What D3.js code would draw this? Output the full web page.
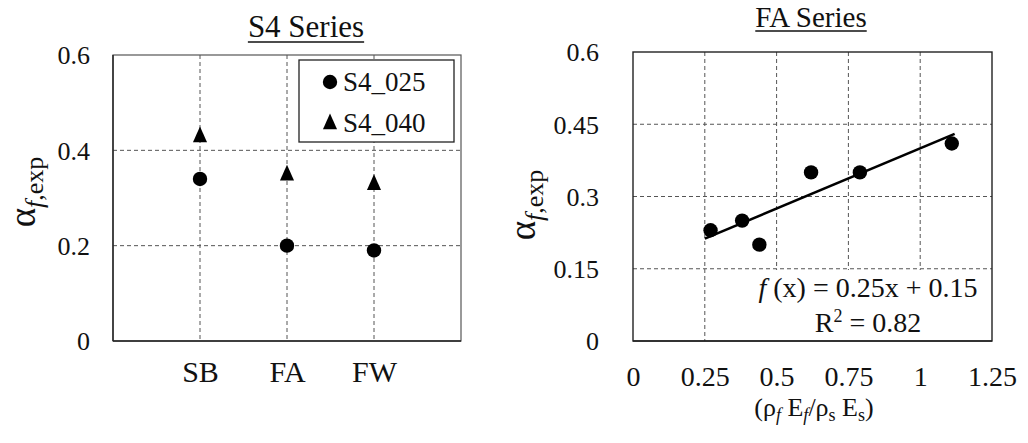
<!DOCTYPE html>
<html>
<head>
<meta charset="utf-8">
<script src="https://cdn.jsdelivr.net/npm/d3@7/dist/d3.min.js"></script>
<style>
  html, body { margin: 0; padding: 0; background: #fff; }
  svg { display: block; }
  svg text, svg tspan { font-family: 'Liberation Serif', serif !important; }
</style>
</head>
<body>
<svg id="chart" width="1028" height="443"></svg>
<script>
// ---- S4 series (left panel) ----
const s4Categories = ["SB", "FA", "FW"];
const s4_025 = [0.34, 0.20, 0.19];
const s4_040 = [0.43, 0.35, 0.33];
const s4SeriesNames = ["S4_025", "S4_040"];
const s4YTicks = [0, 0.2, 0.4, 0.6];

// ---- FA series (right panel) ----
const faStiffness = [0.27, 0.38, 0.44, 0.62, 0.79, 1.11];
const faAlpha = [0.23, 0.25, 0.20, 0.35, 0.35, 0.41];
const faXTicks = [0, 0.25, 0.5, 0.75, 1, 1.25];
const faYTicks = [0, 0.15, 0.3, 0.45, 0.6];
const faTrendSlope = 0.25;
const faTrendIntercept = 0.15;
const faTrendRange = [0.25, 1.12];
const faR2 = 0.82;

const SERIF = "'Liberation Serif', serif";
const svg = d3.select("#chart");
const gridColor = "#555";
const frameColor = "#222";

// custom tall triangle symbol
const tallTriangle = {
  draw(ctx, size) {
    const w = Math.sqrt(size * 0.9);
    const h = w * 1.12;
    ctx.moveTo(0, -h * 0.6);
    ctx.lineTo(w / 2, h * 0.4);
    ctx.lineTo(-w / 2, h * 0.4);
    ctx.closePath();
  }
};
const circleSym = d3.symbol(d3.symbolCircle, Math.PI * 7.2 * 7.2);
const triSym = d3.symbol(tallTriangle, 220);

function txt(sel) {
  return sel.style("font-family", SERIF).attr("fill", "#111");
}

function underlinedTitle(text, cx, baseline, size, uy) {
  const t = txt(svg.append("text"))
    .attr("x", cx).attr("y", baseline)
    .attr("text-anchor", "middle")
    .attr("font-size", size)
    .text(text);
  const w = t.node().getComputedTextLength();
  svg.append("line")
    .attr("x1", cx - w / 2).attr("x2", cx + w / 2)
    .attr("y1", uy).attr("y2", uy)
    .attr("stroke", "#111").attr("stroke-width", 1.5);
}

function alphaLabel(x, cy) {
  const t = txt(svg.append("text"))
    .attr("transform", `translate(${x},${cy}) rotate(-90)`)
    .attr("text-anchor", "middle");
  t.append("tspan").attr("font-size", 37).text("α");
  t.append("tspan").attr("font-size", 26).attr("font-style", "italic").attr("dy", 8).text("f");
  t.append("tspan").attr("font-size", 26).text(",exp");
}

// ================= Left panel =================
{
  const L = 113, R = 461, T = 55, B = 341;
  const x = d3.scalePoint().domain(s4Categories).range([L, R]).padding(1);
  const y = d3.scaleLinear().domain([0, 0.6]).range([B, T]);
  const g = svg.append("g");

  // dashed gridlines
  g.append("g").selectAll("line")
    .data(s4YTicks.filter(v => v > 0 && v < 0.6))
    .join("line")
    .attr("x1", L).attr("x2", R)
    .attr("y1", d => y(d)).attr("y2", d => y(d))
    .attr("stroke", gridColor).attr("stroke-width", 1).attr("stroke-dasharray", "4,3");
  g.append("g").selectAll("line")
    .data(s4Categories)
    .join("line")
    .attr("x1", d => x(d)).attr("x2", d => x(d))
    .attr("y1", T).attr("y2", B)
    .attr("stroke", gridColor).attr("stroke-width", 1).attr("stroke-dasharray", "4,3");

  // frame
  g.append("rect").attr("x", L).attr("y", T).attr("width", R - L).attr("height", B - T)
    .attr("fill", "none").attr("stroke", "#555").attr("stroke-width", 1.2);
  g.append("line").attr("x1", L).attr("x2", R).attr("y1", B).attr("y2", B)
    .attr("stroke", frameColor).attr("stroke-width", 1.6);
  g.append("line").attr("x1", L).attr("x2", L).attr("y1", T).attr("y2", B)
    .attr("stroke", frameColor).attr("stroke-width", 1.4);

  // y axis tick labels
  const yAxis = d3.axisLeft(y).tickValues(s4YTicks).tickSize(0).tickPadding(0)
    .tickFormat(d => d === 0 ? "0" : d3.format(".1f")(d));
  const ya = g.append("g").attr("transform", `translate(${90},0)`).call(yAxis);
  ya.select(".domain").remove();
  txt(ya.selectAll("text")).attr("font-size", 26).attr("dy", "0.34em");

  // category labels
  const xAxis = d3.axisBottom(x).tickSize(0).tickPadding(0);
  const xa = g.append("g").attr("transform", `translate(0,${382})`).call(xAxis);
  xa.select(".domain").remove();
  txt(xa.selectAll("text")).attr("font-size", 30).attr("dy", 0);

  // legend box (covers gridlines)
  const lg = g.append("g");
  lg.append("rect").attr("x", 299).attr("y", 60).attr("width", 155).attr("height", 82)
    .attr("fill", "#fff").attr("stroke", frameColor).attr("stroke-width", 1.3);
  const syms = [circleSym, triSym];
  s4SeriesNames.forEach((name, i) => {
    const cy = 82 + i * 41;
    lg.append("path").attr("d", syms[i]()).attr("transform", `translate(330,${cy})`).attr("fill", "#000");
    txt(lg.append("text")).attr("x", 343).attr("y", cy + 9).attr("font-size", 27).text(name);
  });

  // markers
  g.append("g").selectAll("path")
    .data(s4Categories.map((c, i) => ({ c, v: s4_040[i] })))
    .join("path").attr("d", triSym())
    .attr("transform", d => `translate(${x(d.c)},${y(d.v)})`).attr("fill", "#000");
  g.append("g").selectAll("path")
    .data(s4Categories.map((c, i) => ({ c, v: s4_025[i] })))
    .join("path").attr("d", circleSym())
    .attr("transform", d => `translate(${x(d.c)},${y(d.v)})`).attr("fill", "#000");

  underlinedTitle("S4 Series", 306, 37, 31, 42);
  alphaLabel(35, 192);
}

// ================= Right panel =================
{
  const L = 633, R = 992, T = 52, B = 341;
  const x = d3.scaleLinear().domain([0, 1.25]).range([L, R]);
  const y = d3.scaleLinear().domain([0, 0.6]).range([B, T]);
  const g = svg.append("g");

  g.append("g").selectAll("line")
    .data(faYTicks.filter(v => v > 0 && v < 0.6))
    .join("line")
    .attr("x1", L).attr("x2", R)
    .attr("y1", d => y(d)).attr("y2", d => y(d))
    .attr("stroke", gridColor).attr("stroke-width", 1).attr("stroke-dasharray", "4,3");
  g.append("g").selectAll("line")
    .data(faXTicks.filter(v => v > 0 && v < 1.25))
    .join("line")
    .attr("x1", d => x(d)).attr("x2", d => x(d))
    .attr("y1", T).attr("y2", B)
    .attr("stroke", gridColor).attr("stroke-width", 1).attr("stroke-dasharray", "4,3");

  // white panel behind the regression label
  g.append("rect").attr("x", 746).attr("y", 270).attr("width", R - 746).attr("height", B - 270)
    .attr("fill", "#fff");

  g.append("rect").attr("x", L).attr("y", T).attr("width", R - L).attr("height", B - T)
    .attr("fill", "none").attr("stroke", frameColor).attr("stroke-width", 1.4);
  g.append("line").attr("x1", L).attr("x2", R).attr("y1", B).attr("y2", B)
    .attr("stroke", frameColor).attr("stroke-width", 1.6);

  const yAxis = d3.axisLeft(y).tickValues(faYTicks).tickSize(0).tickPadding(0)
    .tickFormat(d => d === 0 ? "0" : String(+d.toFixed(2)));
  const ya = g.append("g").attr("transform", `translate(${599},0)`).call(yAxis);
  ya.select(".domain").remove();
  txt(ya.selectAll("text")).attr("font-size", 26).attr("dy", "0.34em");

  const xAxis = d3.axisBottom(x).tickValues(faXTicks).tickSize(0).tickPadding(0)
    .tickFormat(d => String(+d.toFixed(2)));
  const xa = g.append("g").attr("transform", `translate(0,${386})`).call(xAxis);
  xa.select(".domain").remove();
  txt(xa.selectAll("text")).attr("font-size", 28).attr("dy", 0);

  // linear trendline
  const line = d3.line().x(d => x(d)).y(d => y(faTrendSlope * d + faTrendIntercept));
  g.append("path").datum(faTrendRange).attr("d", line)
    .attr("fill", "none").attr("stroke", "#000").attr("stroke-width", 2.6);

  g.append("g").selectAll("path")
    .data(faStiffness.map((v, i) => ({ x: v, y: faAlpha[i] })))
    .join("path").attr("d", circleSym())
    .attr("transform", d => `translate(${x(d.x)},${y(d.y)})`).attr("fill", "#000");

  // regression label
  const eq = txt(g.append("text")).attr("x", 868).attr("y", 297).attr("text-anchor", "middle").attr("font-size", 28);
  eq.append("tspan").attr("font-style", "italic").text("f");
  eq.append("tspan").text(` (x) = ${faTrendSlope}x + ${faTrendIntercept}`);
  const r2 = txt(g.append("text")).attr("x", 868).attr("y", 332).attr("text-anchor", "middle").attr("font-size", 28);
  r2.append("tspan").text("R");
  r2.append("tspan").attr("font-size", 18).attr("dy", -10).text("2");
  r2.append("tspan").attr("dy", 10).text(` = ${faR2}`);

  // x axis title
  const xt = txt(g.append("text")).attr("x", 814).attr("y", 416).attr("text-anchor", "middle").attr("font-size", 26);
  xt.append("tspan").text("(ρ");
  xt.append("tspan").attr("font-size", 18).attr("font-style", "italic").attr("dy", 5).text("f");
  xt.append("tspan").attr("dy", -5).text(" E");
  xt.append("tspan").attr("font-size", 18).attr("font-style", "italic").attr("dy", 5).text("f");
  xt.append("tspan").attr("dy", -5).text("/ρ");
  xt.append("tspan").attr("font-size", 18).attr("dy", 5).text("s");
  xt.append("tspan").attr("dy", -5).text(" E");
  xt.append("tspan").attr("font-size", 18).attr("dy", 5).text("s");
  xt.append("tspan").attr("dy", -5).text(")");

  underlinedTitle("FA Series", 811, 27, 29, 31);
  alphaLabel(535, 205);
}
</script>
</body>
</html>
